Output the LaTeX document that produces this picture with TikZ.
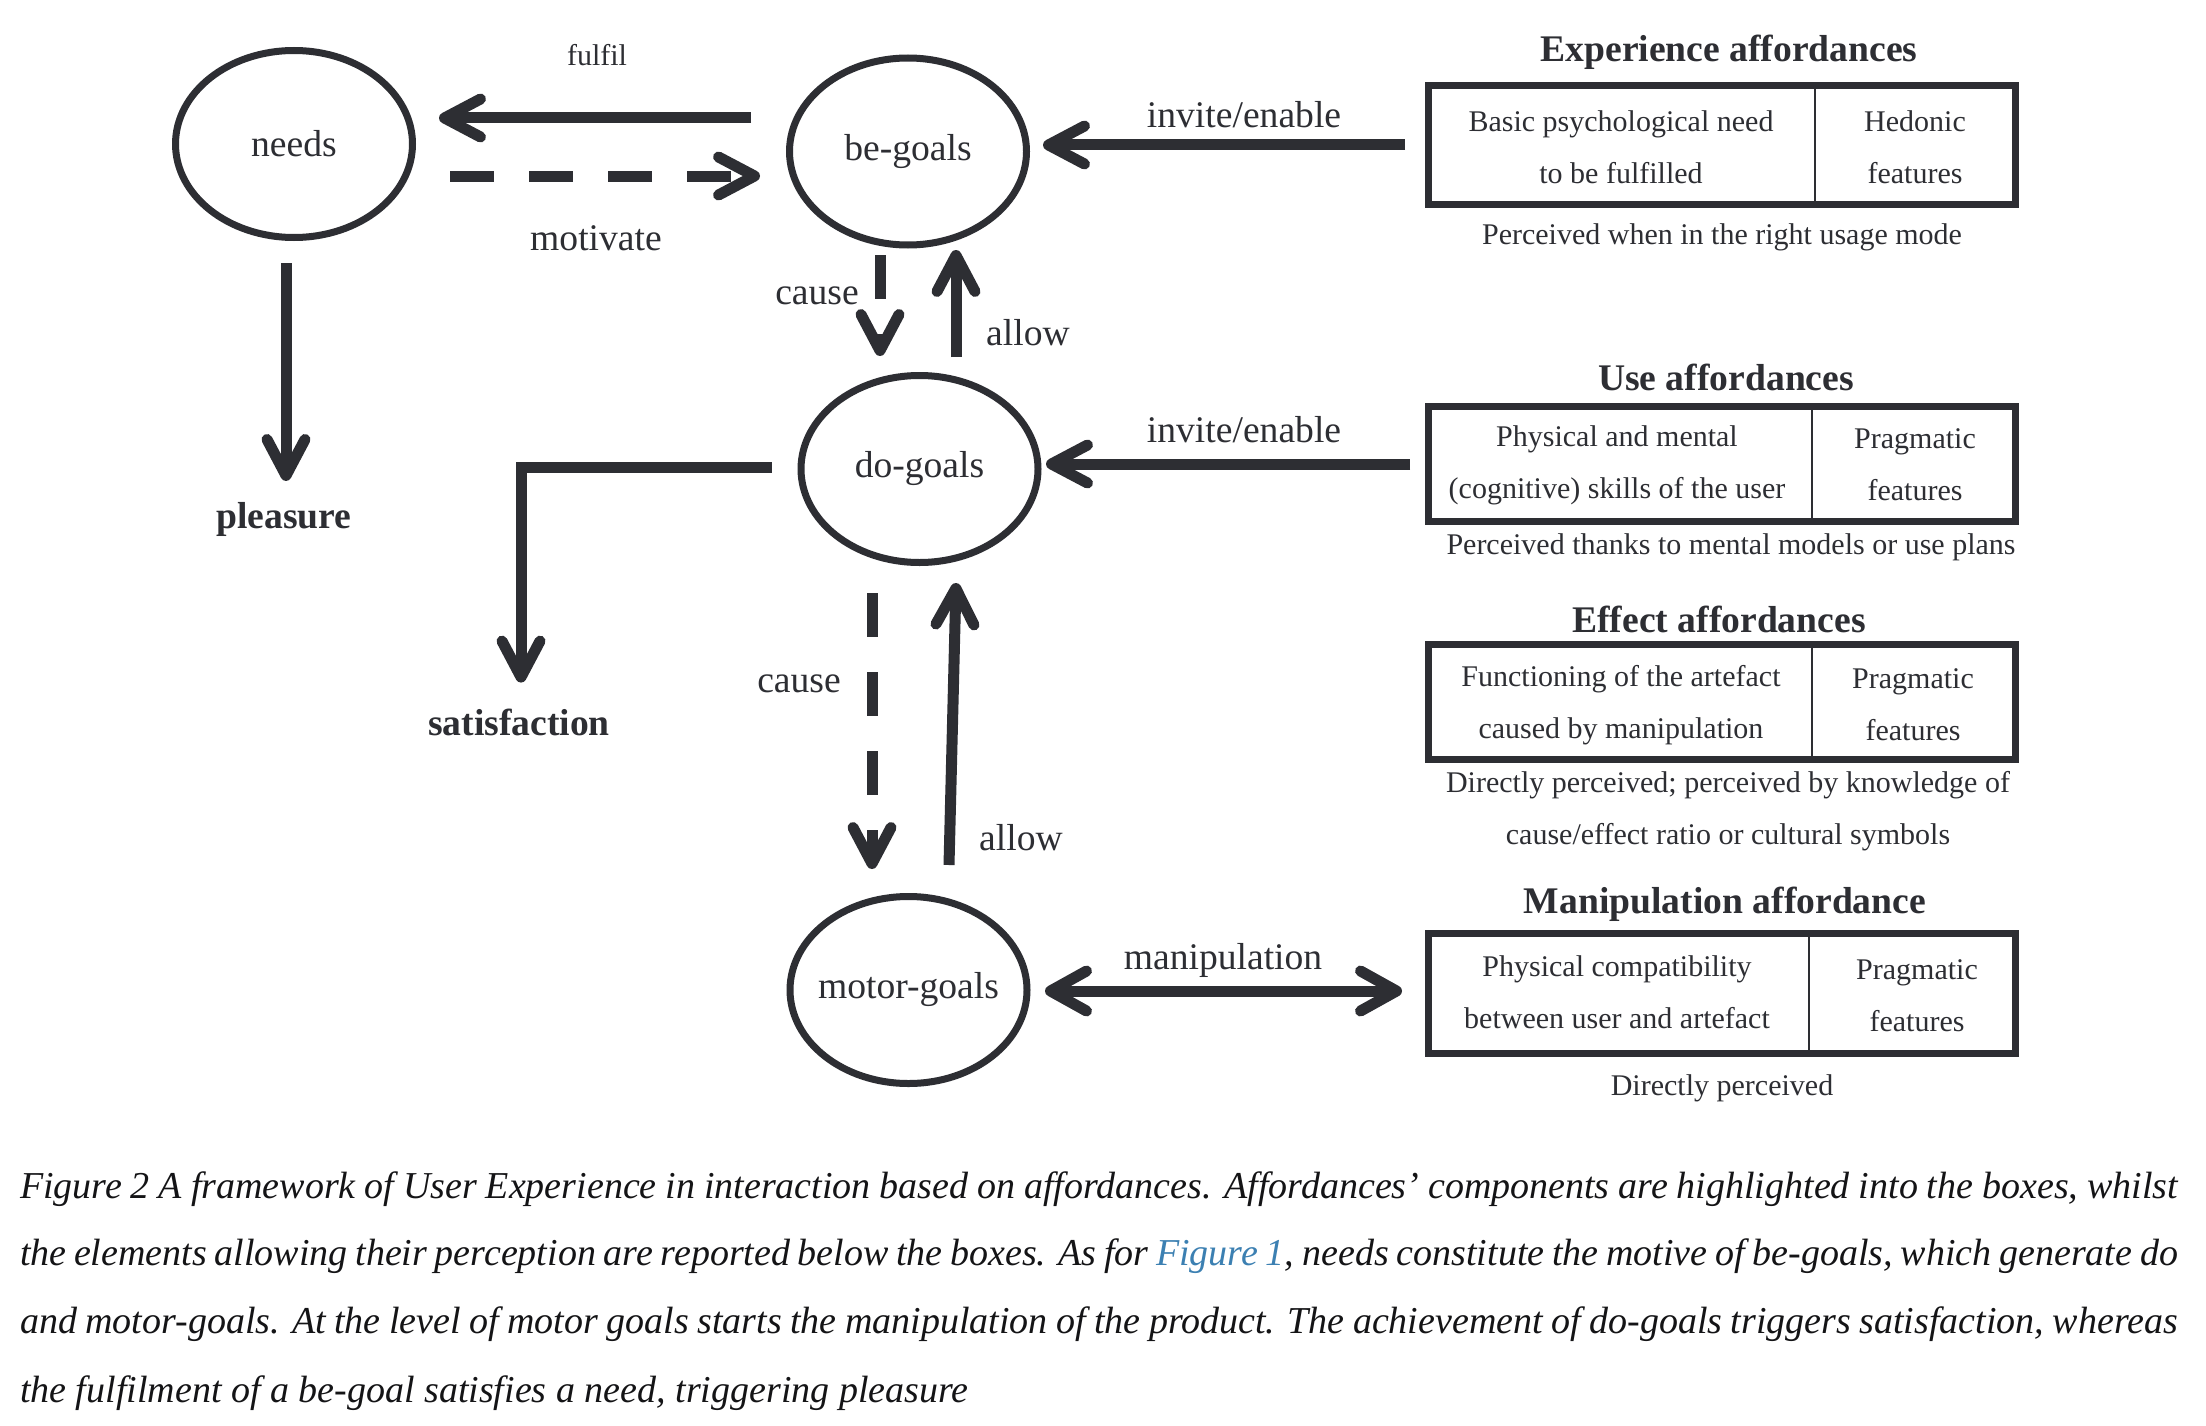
\documentclass[tikz,border=0pt]{standalone}
\usepackage{fontspec}
\setmainfont{Liberation Serif}
\usetikzlibrary{arrows.meta,calc,shapes.geometric}
\definecolor{ink}{RGB}{45,46,51}
\definecolor{capink}{RGB}{20,20,22}
\definecolor{linkblue}{RGB}{60,128,178}
\newcommand{\fLbl}{\fontsize{37.6}{45}\selectfont}
\newcommand{\fSml}{\fontsize{30}{52}\selectfont}
\newcommand{\fCap}{\fontsize{38}{68}\selectfont\itshape}
\begin{document}
\begin{tikzpicture}[x=1pt,y=-1pt,
  every node/.style={inner sep=0pt, outer sep=0pt, text=ink},
  goal/.style={ellipse, draw=ink, line width=7pt, minimum width=237pt, minimum height=187pt, font=\fLbl},
  lab/.style={font=\fLbl},
  blab/.style={font=\fLbl\bfseries},
  small/.style={font=\fSml, align=center},
  afbox/.style={rectangle, draw=ink, line width=7pt, minimum width=587pt},
  divider/.style={draw=ink, line width=2.5pt},
  arr/.style={draw=ink, line width=11pt, -{Straight Barb[length=36pt,width=38pt,round]}},
  darr/.style={arr, dash pattern=on 44pt off 35pt},
  biarr/.style={draw=ink, line width=11pt, {Straight Barb[length=36pt,width=40pt,round]}-{Straight Barb[length=36pt,width=40pt,round]}},
  capline/.style={anchor=base west, font=\fCap, text=capink}
]
\useasboundingbox (0,0) rectangle (2206,1426);
\fill[white] (0,0) rectangle (2206,1426);

% goal ellipses
\node[goal] (needs) at (294,144) {\makebox[0pt]{needs}};
\node[goal] (begoals) at (908,151.5) {\makebox[0pt]{\raisebox{-5pt}{be-goals}}};
\node[goal] (dogoals) at (919.5,469) {\makebox[0pt]{\raisebox{-6pt}{do-goals}}};
\node[goal] (motorgoals) at (908.5,990) {\makebox[0pt]{\raisebox{-4pt}{motor-goals}}};

% outcomes
\node[blab] (pleasure) at (284,519) {pleasure};
\node[blab] (satisfaction) at (519,722) {satisfaction};

% affordance boxes
\node[afbox, minimum height=119pt] (expbox) at (1722,145) {};
\node[afbox, minimum height=115pt] (usebox) at (1721.5,464) {};
\node[afbox, minimum height=115pt] (effbox) at (1721.5,702) {};
\node[afbox, minimum height=120pt] (manbox) at (1721.5,993.5) {};
\draw[divider] ($(expbox.north west)+(386.5,0)$) -- ($(expbox.south west)+(386.5,0)$);
\draw[divider] ($(usebox.north west)+(384,0)$) -- ($(usebox.south west)+(384,0)$);
\draw[divider] ($(effbox.north west)+(384,0)$) -- ($(effbox.south west)+(384,0)$);
\draw[divider] ($(manbox.north west)+(381,0)$) -- ($(manbox.south west)+(381,0)$);

% box titles
\node[blab] (exptitle) at (1729,52) {Experience affordances};
\node[blab] (usetitle) at (1726,377) {Use affordances};
\node[blab] (efftitle) at (1719,619) {Effect affordances};
\node[blab] (mantitle) at (1725,904) {Manipulation affordance};

% box contents
\node[small] (expl) at (1621,147) {Basic psychological need\\to be fulfilled};
\node[small] (expr) at (1915,147) {Hedonic\\features};
\node[small] (usel) at (1617,465) {Physical and mental\\(cognitive) skills of the user};
\node[small] (user) at (1915,465) {Pragmatic\\features};
\node[small] (effl) at (1621,705) {Functioning of the artefact\\caused by manipulation};
\node[small] (effr) at (1913,705) {Pragmatic\\features};
\node[small] (manl) at (1617,992) {Physical compatibility\\between user and artefact};
\node[small] (manr) at (1917,996) {Pragmatic\\features};

% below-box notes
\node[small] (expnote) at (1722,237) {Perceived when in the right usage mode};
\node[small] (usenote) at (1731,547) {Perceived thanks to mental models or use plans};
\node[small] (effnote) at (1728,811) {Directly perceived; perceived by knowledge of\\cause/effect ratio or cultural symbols};
\node[small] (mannote) at (1722,1088) {Directly perceived};

% connector labels
\node[small] (lfulfil) at (597,55) {fulfil};
\node[lab] (lmotivate) at (596,238) {motivate};
\node[lab] (lcause1) at (817,296) {cause};
\node[lab] (lallow1) at (1028,333) {allow};
\node[lab] (linvite1) at (1244,115) {invite/enable};
\node[lab] (linvite2) at (1244,430) {invite/enable};
\node[lab] (lcause2) at (799,684) {cause};
\node[lab] (lallow2) at (1021,838) {allow};
\node[lab] (lmanip) at (1223,960) {manipulation};

% connectors
\draw[arr] ($(begoals.west)+(-38.5,-33.5)$) -- ($(needs.east)+(26.5,-26)$);
\draw[darr] ($(needs.east)+(37.5,32)$) -- ($(begoals.west)+(-29.5,24.5)$);
\draw[arr] ($(needs.south)+(-8,25.5)$) -- ($(pleasure.north)+(2,-21)$);
\draw[darr] ($(begoals.south)+(-28,10)$) -- ($(dogoals.north)+(-39.5,-19.5)$);
\draw[arr] ($(dogoals.north)+(36.5,-18.5)$) -- ($(begoals.south)+(48,5)$);
\draw[arr] ($(dogoals.west)+(-29.5,-2)$) -| ($(satisfaction.north)+(2,-26)$);
\draw[darr] ($(dogoals.south)+(-47.5,30.5)$) -- ($(motorgoals.north)+(-36.5,-27.5)$);
\draw[arr] ($(motorgoals.north)+(40.5,-31.5)$) -- ($(dogoals.south)+(36.5,20.5)$);
\draw[arr] ($(expbox.west)+(-23.5,0)$) -- ($(begoals.east)+(16.5,-6.5)$);
\draw[arr] ($(usebox.west)+(-18,0)$) -- ($(dogoals.east)+(8,-5)$);
\draw[biarr] ($(motorgoals.east)+(18,1)$) -- ($(manbox.west)+(-26,-2.5)$);

% caption
\node[capline] (cap1) at (20,1198) {\makebox[2158pt][s]{Figure 2 A framework of User Experience in interaction based on affordances. Affordances’ components are highlighted into the boxes, whilst}};
\node[capline] (cap2) at (20,1265) {\makebox[2158pt][s]{the elements allowing their perception are reported below the boxes. As for \textcolor{linkblue}{Figure 1}, needs constitute the motive of be-goals, which generate do}};
\node[capline] (cap3) at (20,1333) {\makebox[2158pt][s]{and motor-goals. At the level of motor goals starts the manipulation of the product. The achievement of do-goals triggers satisfaction, whereas}};
\node[capline] (cap4) at (20,1402) {the fulfilment of a be-goal satisfies a need, triggering pleasure};
\end{tikzpicture}
\end{document}
